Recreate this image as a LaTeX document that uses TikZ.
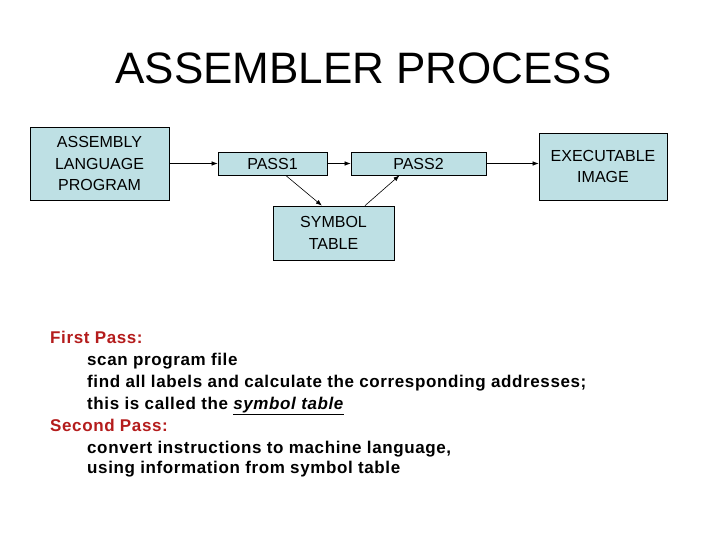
\documentclass[tikz,border=0pt]{standalone}
\usepackage{fontspec}
\setmainfont{Liberation Sans}
\newfontfamily\notefont[LetterSpace=3.6]{Liberation Sans}
\usetikzlibrary{arrows.meta}
\definecolor{boxfill}{RGB}{190,224,228}
\definecolor{passred}{RGB}{180,28,28}
\begin{document}
\begin{tikzpicture}[x=1pt,y=-1pt,
  blk/.style={draw, line width=0.8pt, fill=boxfill, inner sep=0pt, align=center,
    font=\fontsize{16}{21.5}\selectfont},
  flow/.style={-{Latex[length=6pt,width=4.5pt]}, line width=0.6pt},
  txt/.style={anchor=base west, inner sep=0pt, font=\notefont\bfseries\fontsize{17}{19}\selectfont}]
\useasboundingbox (0,0) rectangle (728,546);
\node[inner sep=0pt, font=\fontsize{44}{50}\selectfont] (title) at (363.5,68) {ASSEMBLER PROCESS};
% boxes
\node[blk, minimum width=139pt, minimum height=73pt] (asm) at (99.5,163.5) {ASSEMBLY\\LANGUAGE\\PROGRAM};
\node[blk, minimum width=109pt, minimum height=23pt] (pass1) at (272.5,163.5) {PASS1};
\node[blk, minimum width=135pt, minimum height=23pt] (pass2) at (418.5,163.5) {PASS2};
\node[blk, minimum width=121pt, minimum height=54pt] (sym) at (333.5,233) {SYMBOL\\TABLE};
\node[blk, minimum width=128pt, minimum height=67pt] (exe) at (603,166.5) {EXECUTABLE\\IMAGE};
% arrows
\draw[flow] (asm) -- (pass1);
\draw[flow] (pass1) -- (pass2);
\draw[flow] (pass1.-42.6) -- (sym.113);
\draw[flow] (sym.41.5) -- (pass2.-148);
\draw[flow] (pass2) -- (exe.west |- pass2.east);
% notes
\node[txt, text=passred] (p1) at (50,343) {First Pass:};
\node[txt] (l1) at (87,365) {scan program file};
\node[txt] (l2) at (87,387) {find all labels and calculate the corresponding addresses;};
\node[txt] (l3) at (87,409) {this is called the \underline{\textit{symbol table}}};
\node[txt, text=passred] (p2) at (50,431) {Second Pass:};
\node[txt] (l4) at (87,453) {convert instructions to machine language,};
\node[txt] (l5) at (87,473) {using information from symbol table};
\end{tikzpicture}
\end{document}
